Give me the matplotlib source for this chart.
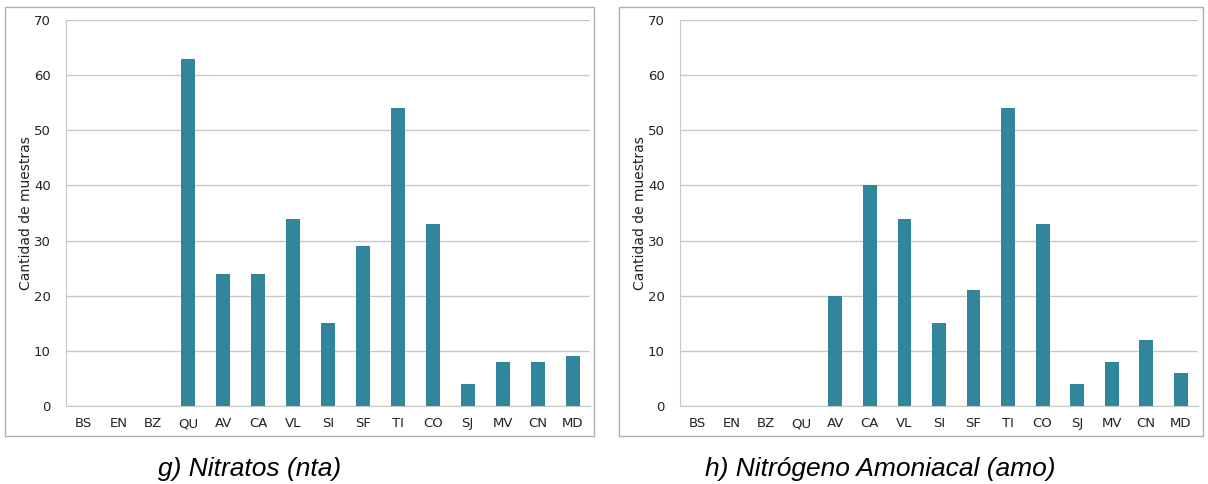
import numpy as np
import matplotlib
matplotlib.use("Agg")
import matplotlib.pyplot as plt
from matplotlib.patches import Rectangle

# Data
sites = ["BS", "EN", "BZ", "QU", "AV", "CA", "VL", "SI", "SF", "TI", "CO", "SJ", "MV", "CN", "MD"]
nitratos = [0, 0, 0, 63, 24, 24, 34, 15, 29, 54, 33, 4, 8, 8, 9]
amoniacal = [0, 0, 0, 0, 20, 40, 34, 15, 21, 54, 33, 4, 8, 12, 6]
captions = ["g) Nitratos (nta)", "h) Nitrógeno Amoniacal (amo)"]
ylabel = "Cantidad de muestras"
yticks = [0, 10, 20, 30, 40, 50, 60, 70]

bar_color = "#31859c"
W, H = 1208, 484

fig = plt.figure(figsize=(W / 100, H / 100), dpi=100)

# panel frames (pixels): frame x-range, axes x-range, caption centre
panels = [
    {"frame": (5, 594), "ax": (66, 590), "cap_x": 250, "data": nitratos},
    {"frame": (619, 1203), "ax": (680, 1198), "cap_x": 880, "data": amoniacal},
]

for p, cap in zip(panels, captions):
    fx0, fx1 = p["frame"]
    fig.patches.append(Rectangle((fx0 / W, 1 - 436 / H), (fx1 - fx0) / W, (436 - 7) / H,
                                 transform=fig.transFigure, fill=False,
                                 edgecolor="#b0b0b0", linewidth=1.0))
    ax0, ax1 = p["ax"]
    ax = fig.add_axes([ax0 / W, 1 - 406 / H, (ax1 - ax0) / W, (406 - 20) / H])
    x = np.arange(len(sites))
    ax.bar(x, p["data"], width=0.4, color=bar_color, zorder=3)
    ax.set_xlim(-0.5, len(sites) - 0.5)
    ax.set_ylim(0, 70)
    ax.set_yticks(yticks)
    ax.set_xticks(x)
    ax.set_xticklabels(sites)
    ax.grid(axis="y", color="#c8c8c8", linewidth=1.0, zorder=0)
    for s in ["top", "right"]:
        ax.spines[s].set_visible(False)
    ax.spines["left"].set_color("#c8c8c8")
    ax.spines["bottom"].set_color("#c8c8c8")
    ax.tick_params(length=0, labelsize=9.5, colors="#222222", pad=8)
    ax.tick_params(axis="y", pad=11)
    ax.set_ylabel(ylabel, fontsize=10, color="#222222")
    ax.yaxis.set_label_coords(-33 / (ax1 - ax0), 0.5)
    fig.text(p["cap_x"] / W, 1 - 469 / H, cap, ha="center", va="center",
             fontsize=19, style="italic", family="Liberation Sans")

fig.savefig("out.png", dpi=100)
